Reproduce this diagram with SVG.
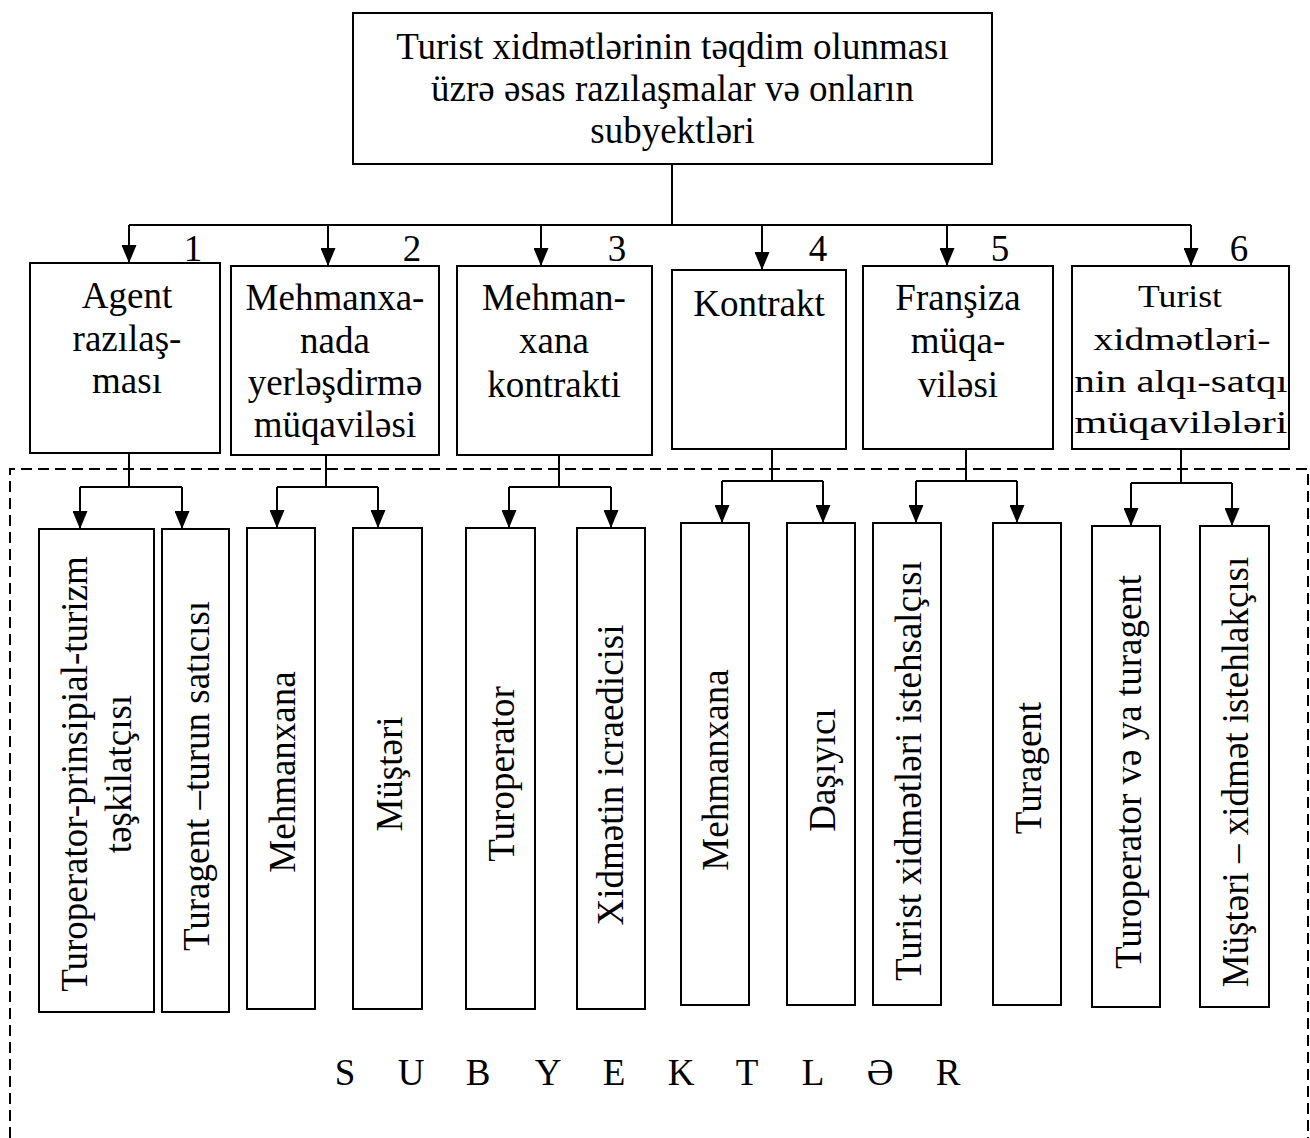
<svg xmlns="http://www.w3.org/2000/svg" width="1310" height="1138" viewBox="0 0 1310 1138">
  <style>
    .box { fill: #fff; stroke: #000; stroke-width: 2; }
    .t { font-family: 'Liberation Serif', 'Times New Roman', serif; font-size: 37px; fill: #000; text-anchor: middle; }
    .t6 { font-size: 32px; }
    .conn { stroke: #000; stroke-width: 2; fill: none; }
    .frame { stroke: #000; stroke-width: 2; fill: none; stroke-dasharray: 11 6; }
  </style>
  <defs>
    <marker id="arrow" markerUnits="userSpaceOnUse" markerWidth="18" markerHeight="15" refX="18" refY="7.5" orient="auto">
      <path d="M0,0 L18,7.5 L0,15 Z" fill="#000"/>
    </marker>
  </defs>

  <rect width="1310" height="1138" fill="#fff"/>

  <!-- dashed frame around the subjects -->
  <path class="frame" d="M10,1138 V469 H1308 V1138"/>

  <!-- root -->
  <g id="root">
    <rect class="box" x="353" y="13" width="639" height="151"/>
    <text class="t" x="672.5" y="59">Turist xidmətlərinin təqdim olunması</text>
    <text class="t" x="672.5" y="101">üzrə əsas razılaşmalar və onların</text>
    <text class="t" x="672.5" y="143">subyektləri</text>
  </g>

  <!-- agreement types -->
  <g id="agr1">
    <rect class="box" x="30" y="263" width="190" height="190"/>
    <text class="t" x="193" y="261">1</text>
    <text class="t" x="127" y="308">Agent</text>
    <text class="t" x="127" y="351">razılaş-</text>
    <text class="t" x="127" y="393">ması</text>
  </g>
  <g id="agr2">
    <rect class="box" x="231" y="266" width="208" height="189"/>
    <text class="t" x="412" y="261">2</text>
    <text class="t" x="335" y="310">Mehmanxa-</text>
    <text class="t" x="335" y="353">nada</text>
    <text class="t" x="335" y="395">yerləşdirmə</text>
    <text class="t" x="335" y="437">müqaviləsi</text>
  </g>
  <g id="agr3">
    <rect class="box" x="457" y="266" width="195" height="189"/>
    <text class="t" x="617" y="261">3</text>
    <text class="t" x="554" y="310">Mehman-</text>
    <text class="t" x="554" y="353">xana</text>
    <text class="t" x="554" y="397">kontrakti</text>
  </g>
  <g id="agr4">
    <rect class="box" x="672" y="270" width="174" height="179"/>
    <text class="t" x="818" y="261">4</text>
    <text class="t" x="759" y="316">Kontrakt</text>
  </g>
  <g id="agr5">
    <rect class="box" x="863" y="266" width="190" height="183"/>
    <text class="t" x="1000" y="261">5</text>
    <text class="t" x="958" y="310">Franşiza</text>
    <text class="t" x="958" y="353">müqa-</text>
    <text class="t" x="958" y="397">viləsi</text>
  </g>
  <g id="agr6">
    <rect class="box" x="1072" y="266" width="217" height="183"/>
    <text class="t" x="1239" y="261">6</text>
    <text class="t t6" x="1180" y="307" textLength="84" lengthAdjust="spacingAndGlyphs">Turist</text>
    <text class="t t6" x="1182" y="350" textLength="177" lengthAdjust="spacingAndGlyphs">xidmətləri-</text>
    <text class="t t6" x="1181" y="392" textLength="213" lengthAdjust="spacingAndGlyphs">nin alqı-satqı</text>
    <text class="t t6" x="1181" y="433" textLength="213" lengthAdjust="spacingAndGlyphs">müqavilələri</text>
  </g>

  <!-- subjects (vertical labels) -->
  <g id="s1">
    <rect class="box" x="39" y="529" width="115" height="483"/>
    <text class="t" transform="translate(87,774) rotate(-90)">Turoperator-prinsipial-turizm</text>
    <text class="t" transform="translate(131,774) rotate(-90)">təşkilatçısı</text>
  </g>
  <g id="s2">
    <rect class="box" x="162" y="529" width="67" height="483"/>
    <text class="t" transform="translate(209,776) rotate(-90)">Turagent –turun satıcısı</text>
  </g>
  <g id="s3">
    <rect class="box" x="247" y="528" width="68" height="481"/>
    <text class="t" transform="translate(295,772) rotate(-90)">Mehmanxana</text>
  </g>
  <g id="s4">
    <rect class="box" x="353" y="528" width="69" height="481"/>
    <text class="t" transform="translate(402,774) rotate(-90)">Müştəri</text>
  </g>
  <g id="s5">
    <rect class="box" x="466" y="528" width="69" height="481"/>
    <text class="t" transform="translate(514,774) rotate(-90)">Turoperator</text>
  </g>
  <g id="s6">
    <rect class="box" x="577" y="528" width="68" height="481"/>
    <text class="t" transform="translate(623,775) rotate(-90)">Xidmətin icraedicisi</text>
  </g>
  <g id="s7">
    <rect class="box" x="681" y="523" width="68" height="482"/>
    <text class="t" transform="translate(728,770) rotate(-90)">Mehmanxana</text>
  </g>
  <g id="s8">
    <rect class="box" x="787" y="523" width="68" height="482"/>
    <text class="t" transform="translate(835,770) rotate(-90)">Daşıyıcı</text>
  </g>
  <g id="s9">
    <rect class="box" x="873" y="523" width="68" height="482"/>
    <text class="t" transform="translate(921,771) rotate(-90)">Turist xidmətləri istehsalçısı</text>
  </g>
  <g id="s10">
    <rect class="box" x="993" y="523" width="68" height="482"/>
    <text class="t" transform="translate(1041,768) rotate(-90)">Turagent</text>
  </g>
  <g id="s11">
    <rect class="box" x="1092" y="526" width="68" height="481"/>
    <text class="t" transform="translate(1141,772) rotate(-90)">Turoperator və ya turagent</text>
  </g>
  <g id="s12">
    <rect class="box" x="1200" y="526" width="69" height="481"/>
    <text class="t" transform="translate(1248,772) rotate(-90)">Müştəri – xidmət istehlakçısı</text>
  </g>

  <!-- caption -->
  <text class="t" y="1085" x="345 411 478 548 614 681 747 813 880 948">SUBYEKTLƏR</text>

  <!-- connectors -->
  <g id="connectors" class="conn">
    <path d="M672,164 V225 M129,225 H1191"/>
    <path d="M129,225 V263" marker-end="url(#arrow)"/>
    <path d="M328,225 V266" marker-end="url(#arrow)"/>
    <path d="M541,225 V266" marker-end="url(#arrow)"/>
    <path d="M762,225 V270" marker-end="url(#arrow)"/>
    <path d="M947,225 V266" marker-end="url(#arrow)"/>
    <path d="M1191,225 V266" marker-end="url(#arrow)"/>

    <path d="M129,453 V487 M80,487 H182"/>
    <path d="M80,487 V529" marker-end="url(#arrow)"/>
    <path d="M182,487 V529" marker-end="url(#arrow)"/>

    <path d="M326,455 V487 M277,487 H378"/>
    <path d="M277,487 V528" marker-end="url(#arrow)"/>
    <path d="M378,487 V528" marker-end="url(#arrow)"/>

    <path d="M559,455 V487 M509,487 H611"/>
    <path d="M509,487 V528" marker-end="url(#arrow)"/>
    <path d="M611,487 V528" marker-end="url(#arrow)"/>

    <path d="M772,449 V481 M722,481 H823"/>
    <path d="M722,481 V523" marker-end="url(#arrow)"/>
    <path d="M823,481 V523" marker-end="url(#arrow)"/>

    <path d="M966,449 V481 M916,481 H1017"/>
    <path d="M916,481 V523" marker-end="url(#arrow)"/>
    <path d="M1017,481 V523" marker-end="url(#arrow)"/>

    <path d="M1181,449 V483 M1131,483 H1232"/>
    <path d="M1131,483 V526" marker-end="url(#arrow)"/>
    <path d="M1232,483 V526" marker-end="url(#arrow)"/>
  </g>
</svg>
